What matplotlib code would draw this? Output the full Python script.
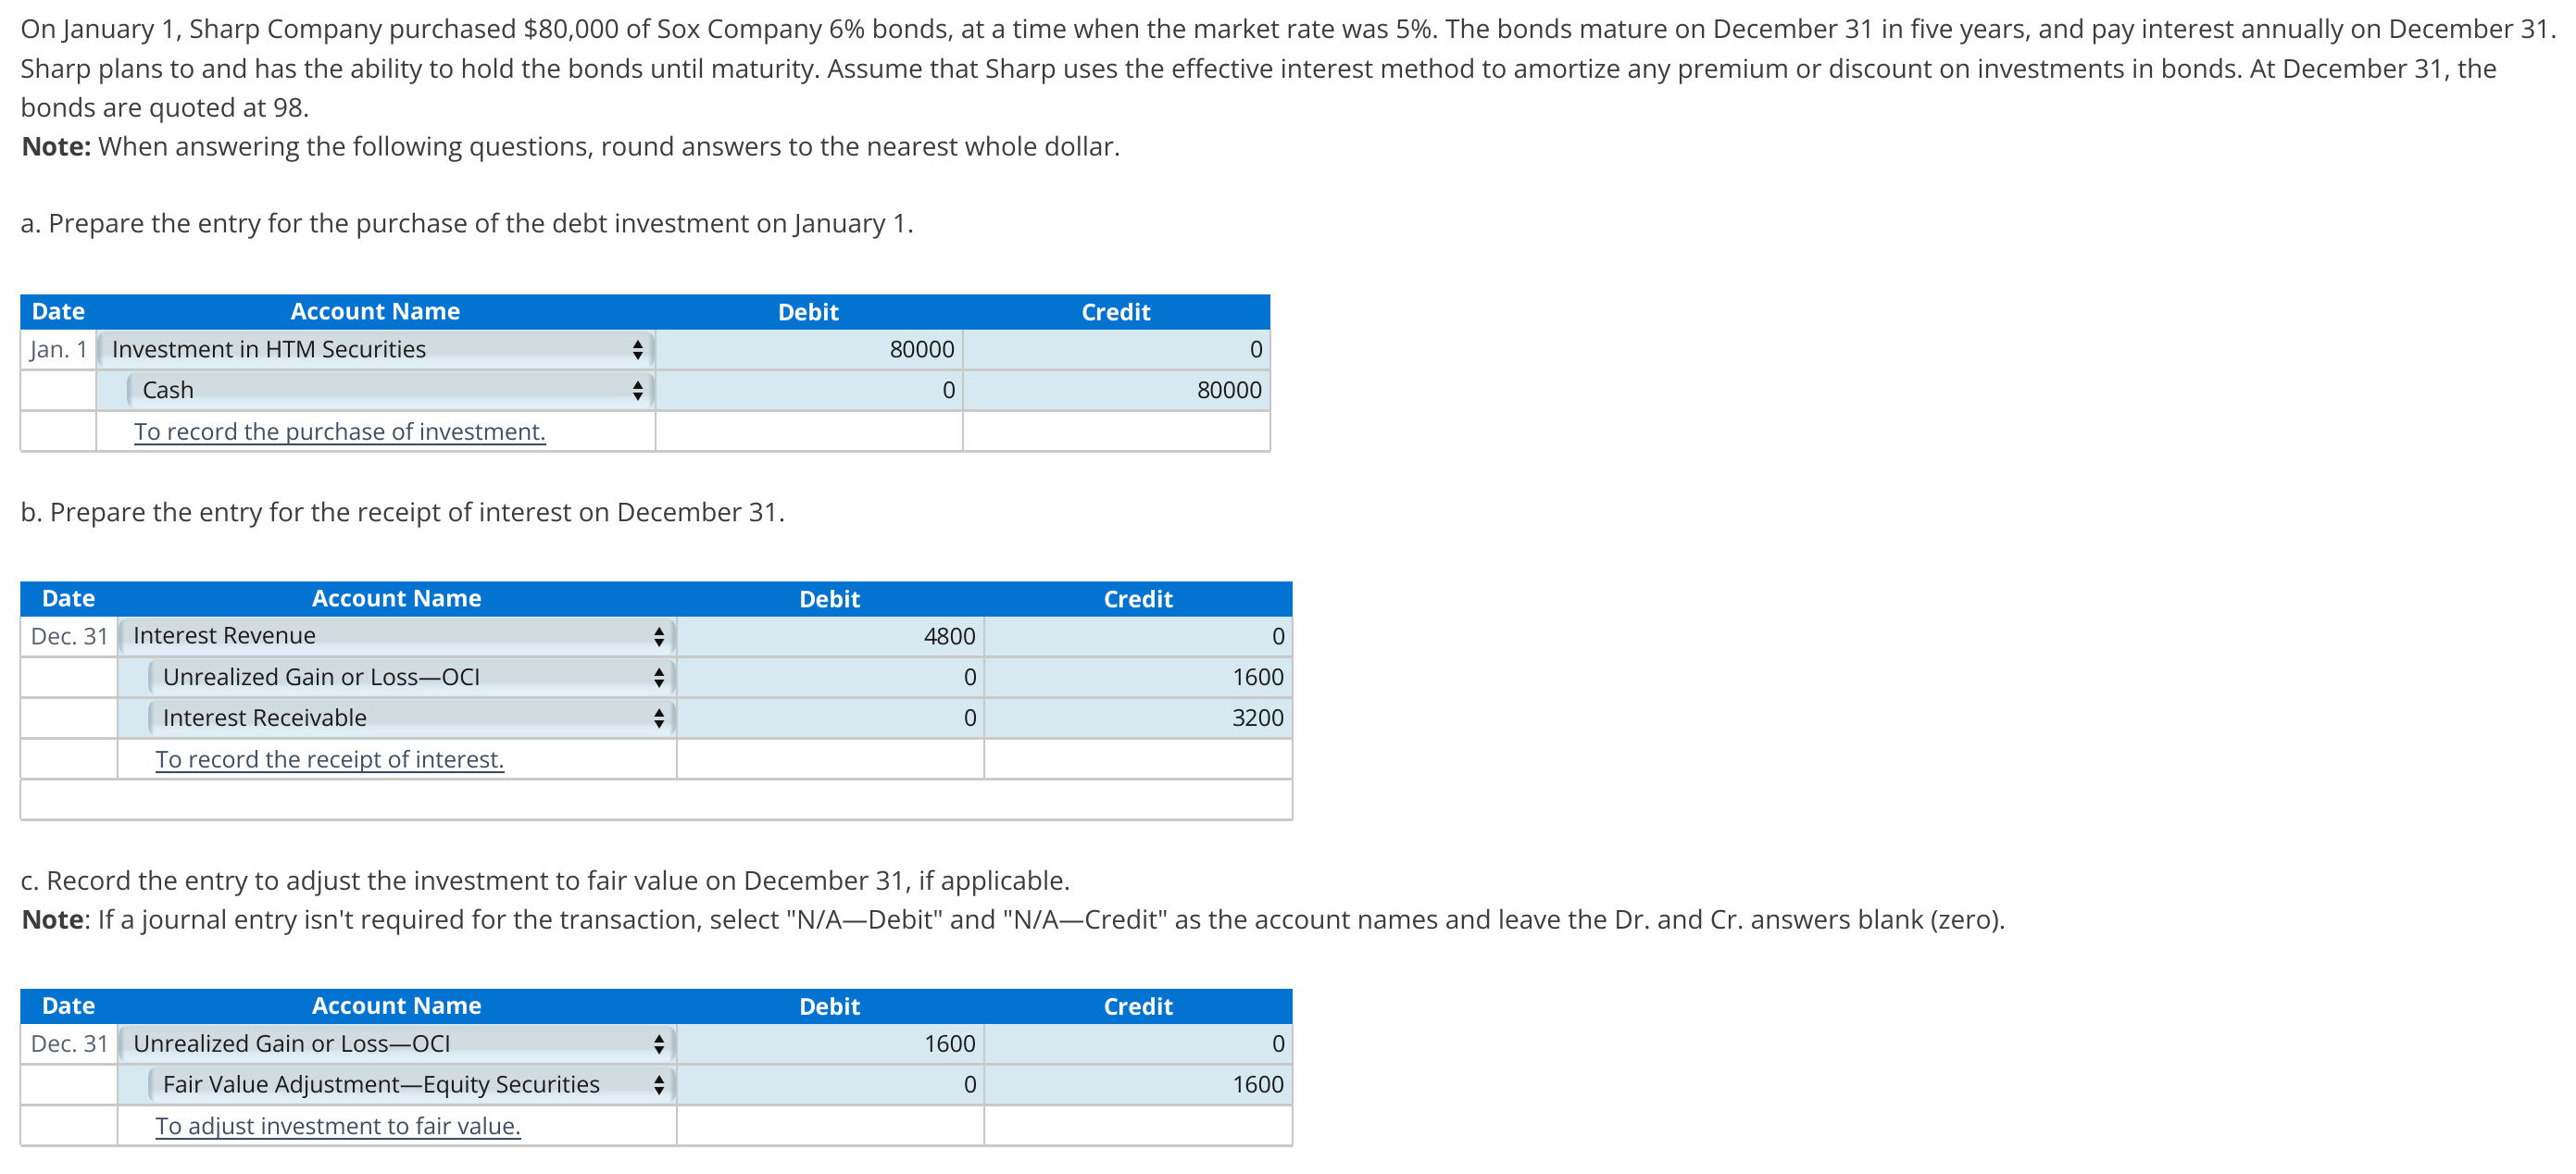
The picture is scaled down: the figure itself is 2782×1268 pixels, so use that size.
import matplotlib

matplotlib.use("Agg")
import matplotlib.pyplot as plt
import numpy as np
from matplotlib.patches import FancyBboxPatch, Rectangle

W, H = 2782, 1268
TEXT = "#3c3c3c"
BLUE = "#0273d0"
CELL = "#d6e8f0"
GRID = "#c9c9c9"
LINK = "#3d4d63"

plt.rcParams["font.family"] = ["Open Sans", "DejaVu Sans"]
plt.rcParams["text.hinting"] = "no_hinting"
plt.rcParams["text.hinting_factor"] = 1

INTRO = [
    "On January 1, Sharp Company purchased $80,000 of Sox Company 6% bonds, at a time when the market rate was 5%. The bonds mature on December 31 in five years, and pay interest annually on December 31.",
    "Sharp plans to and has the ability to hold the bonds until maturity. Assume that Sharp uses the effective interest method to amortize any premium or discount on investments in bonds. At December 31, the",
    "bonds are quoted at 98.",
]
NOTE_1 = "When answering the following questions, round answers to the nearest whole dollar."
PART_A = "a. Prepare the entry for the purchase of the debt investment on January 1."
PART_B = "b. Prepare the entry for the receipt of interest on December 31."
PART_C = "c. Record the entry to adjust the investment to fair value on December 31, if applicable."
NOTE_2 = ': If a journal entry isn\'t required for the transaction, select "N/A\u2014Debit" and "N/A\u2014Credit" as the account names and leave the Dr. and Cr. answers blank (zero).'

HEADERS = ["Date", "Account Name", "Debit", "Credit"]

A_DATES = ["Jan. 1", ""]
A_ACCOUNTS = ["Investment in HTM Securities", "Cash"]
A_DEBIT = [80000, 0]
A_CREDIT = [0, 80000]
A_MEMO = "To record the purchase of investment."

B_DATES = ["Dec. 31", "", ""]
B_ACCOUNTS = ["Interest Revenue", "Unrealized Gain or Loss\u2014OCI", "Interest Receivable"]
B_DEBIT = [4800, 0, 0]
B_CREDIT = [0, 1600, 3200]
B_MEMO = "To record the receipt of interest."

C_DATES = ["Dec. 31", ""]
C_ACCOUNTS = ["Unrealized Gain or Loss\u2014OCI", "Fair Value Adjustment\u2014Equity Securities"]
C_DEBIT = [1600, 0]
C_CREDIT = [0, 1600]
C_MEMO = "To adjust investment to fair value."

fig = plt.figure(figsize=(W / 100, H / 100), dpi=100)
ax = fig.add_axes([0, 0, 1, 1])
ax.set_xlim(0, W)
ax.set_ylim(H, 0)
ax.axis("off")

BODY = 20.18
CELLFS = 17.75

# vertical shading of the select boxes: grey top half, paler bottom half
SHADE = np.array(
    [[0.80, 0.85, 0.87], [0.81, 0.86, 0.88]]
    + [[0.82, 0.86, 0.88]] * 7
    + [[0.81, 0.86, 0.89]]
    + [[0.85, 0.90, 0.93], [0.87, 0.92, 0.95], [0.88, 0.93, 0.96], [0.89, 0.94, 0.97], [0.89, 0.94, 0.97]]
).reshape(-1, 1, 3)
EDGE = [0.62, 0.71, 0.76]


def line(x0, y0, x1, y1, lw=1.5, color=GRID):
    ax.plot([x0, x1], [y0, y1], color=color, lw=lw, solid_capstyle="butt", zorder=3)


def bold_then_regular(x, y, head, rest, gap):
    t = ax.text(x, y, head, fontsize=BODY, weight="bold", color=TEXT, va="center")
    box = t.get_window_extent(fig.canvas.get_renderer())
    ax.text(box.x1 + gap, y, rest, fontsize=BODY, color=TEXT, va="center")


def edge_shade(x0, x1, y0, y1, clip, left):
    alpha = [0.7, 0.0] if left else [0.0, 0.7]
    rgba = np.array([[EDGE + [alpha[0]], EDGE + [alpha[1]]]])
    im = ax.imshow(rgba, extent=(x0, x1, y1, y0), aspect="auto", zorder=4, interpolation="bilinear")
    im.set_clip_path(clip)


def select_box(x0, y0, x1, y1):
    box = FancyBboxPatch(
        (x0 + 11, y0 + 11), x1 - x0 - 22, y1 - y0 - 22,
        boxstyle="round,pad=11,rounding_size=12", fc="none", ec="none", zorder=4,
    )
    ax.add_patch(box)
    im = ax.imshow(SHADE, extent=(x0, x1, y1, y0), aspect="auto", zorder=4, interpolation="bilinear")
    im.set_clip_path(box)
    edge_shade(x0, x0 + 9, y0, y1, box, True)
    edge_shade(x1 - 9, x1, y0, y1, box, False)
    # up/down arrows
    cx = x1 - 18
    ax.fill([cx - 5.5, cx, cx + 5.5], [y0 + 18, y0 + 9, y0 + 18], color="#111111", zorder=5, lw=0)
    ax.fill([cx - 5.5, cx, cx + 5.5], [y0 + 22, y0 + 31, y0 + 22], color="#111111", zorder=5, lw=0)


def journal(top, xs, dates, accounts, debit, credit, memo, extra_row=False):
    head_bottom = top + 38
    row_h = 44
    n = len(accounts)
    ax.add_patch(Rectangle((xs[0], top), xs[-1] - xs[0], 38, fc=BLUE, ec="none", zorder=2))
    for i, label in enumerate(HEADERS):
        ax.text((xs[i] + xs[i + 1]) / 2, top + 21, label, color="white", fontsize=CELLFS,
                weight="bold", ha="center", va="center", zorder=5)

    for r in range(n):
        y0 = head_bottom + r * row_h
        y1 = head_bottom + (r + 1) * row_h - 1
        ax.add_patch(Rectangle((xs[1], y0), xs[-1] - xs[1], y1 - y0, fc=CELL, ec="none", zorder=1))
        indent = 0 if r == 0 else 32
        select_box(xs[1] + 1 + indent, y0 + 2, xs[2] - 1, y1 - 2)
        ty = (y0 + y1) / 2 + 2
        ax.text(xs[1] - 8, ty, dates[r], color="#555f6b", fontsize=CELLFS, ha="right", va="center", zorder=6)
        ax.text(xs[1] + 17 + indent, ty, accounts[r], color="#1a1a1a", fontsize=CELLFS, va="center", zorder=6)
        ax.text(xs[3] - 8, ty, str(debit[r]), color="#1a1a1a", fontsize=CELLFS, ha="right", va="center", zorder=6)
        ax.text(xs[4] - 8, ty, str(credit[r]), color="#1a1a1a", fontsize=CELLFS, ha="right", va="center", zorder=6)

    memo_y = head_bottom + n * row_h + row_h / 2 + 2
    t = ax.text(xs[1] + 41, memo_y, memo, color=LINK, fontsize=CELLFS, va="center", zorder=6)
    box = t.get_window_extent(fig.canvas.get_renderer())
    ax.plot([box.x0, box.x1], [memo_y + 12, memo_y + 12], color=LINK, lw=1.5, solid_capstyle="butt", zorder=6)

    rows = n + 1
    bottom = head_bottom + rows * row_h
    for r in range(1, rows + 1):
        line(xs[0], head_bottom + r * row_h - 1, xs[-1], head_bottom + r * row_h - 1, lw=2.1)
    for x in xs:
        line(x, head_bottom, x, bottom - 1)
    if extra_row:
        line(xs[0], bottom, xs[0], bottom + row_h - 1)
        line(xs[-1], bottom, xs[-1], bottom + row_h - 1)
        line(xs[0], bottom + row_h - 1, xs[-1], bottom + row_h - 1, lw=2.1)


for y, s in zip([34, 77, 118], INTRO):
    ax.text(22, y, s, fontsize=BODY, color=TEXT, va="center")
bold_then_regular(22, 161, "Note:", NOTE_1, 7)
ax.text(22, 244, PART_A, fontsize=BODY, color=TEXT, va="center")
ax.text(22, 556, PART_B, fontsize=BODY, color=TEXT, va="center")
ax.text(22, 954, PART_C, fontsize=BODY, color=TEXT, va="center")
bold_then_regular(22, 996, "Note", NOTE_2, 0)

journal(318, [22, 104, 708, 1040, 1372], A_DATES, A_ACCOUNTS, A_DEBIT, A_CREDIT, A_MEMO)
journal(628, [22, 127, 731, 1063, 1396], B_DATES, B_ACCOUNTS, B_DEBIT, B_CREDIT, B_MEMO, extra_row=True)
journal(1068, [22, 127, 731, 1063, 1396], C_DATES, C_ACCOUNTS, C_DEBIT, C_CREDIT, C_MEMO)

ax.set_xlim(0, W)
ax.set_ylim(H, 0)
fig.savefig("out.png", dpi=100)
